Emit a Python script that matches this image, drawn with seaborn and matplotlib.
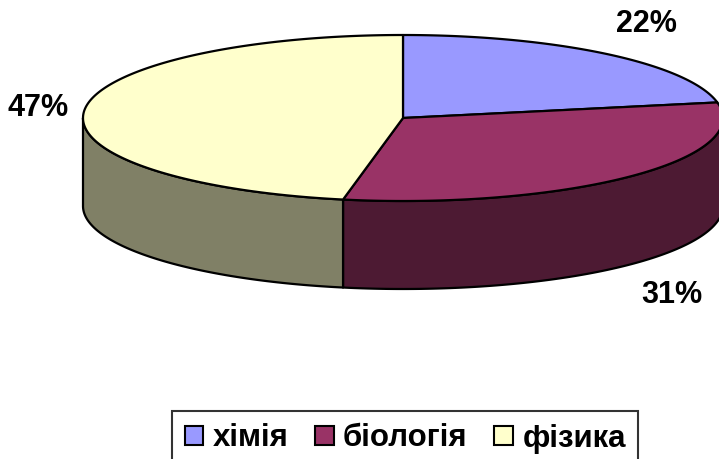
import numpy as np
import matplotlib.pyplot as plt
from matplotlib.patches import Polygon, Patch
import seaborn as sns

# data
subjects = ['хімія', 'біологія', 'фізика']
shares = [22, 31, 47]
top_colors = ['#9999FF', '#993366', '#FFFFCC']
side_colors = ['#4D4D80', '#4D1A33', '#808066']

sns.set_theme(style='white')
plt.rcParams['font.family'] = ['Liberation Sans', 'DejaVu Sans']
plt.rcParams['text.color'] = 'black'

# ellipse geometry in pixels
cx, cy, rx, ry, depth = 403, 118, 320, 83, 88
label_xy = [(646, 24), (672, 295), (38, 108)]


def pt(theta):
    return cx + rx * np.sin(theta), cy - ry * np.cos(theta)


fig = plt.figure(figsize=(7.19, 4.59), dpi=100)
ax = fig.add_axes([0, 0, 1, 1])
ax.set_xlim(0, 719)
ax.set_ylim(459, 0)
ax.axis('off')

bounds = np.cumsum([0] + shares) / sum(shares) * 2 * np.pi

# side walls (front half only)
for i in range(len(shares)):
    a = max(bounds[i], np.pi / 2)
    b = min(bounds[i + 1], 3 * np.pi / 2)
    if a < b:
        t = np.linspace(a, b, 200)
        x, y = pt(t)
        xs = np.concatenate([x, x[::-1]])
        ys = np.concatenate([y, (y + depth)[::-1]])
        ax.add_patch(Polygon(np.column_stack([xs, ys]), closed=True,
                             facecolor=side_colors[i], edgecolor='black',
                             lw=1.6, joinstyle='round'))

# top faces
for i in range(len(shares)):
    t = np.linspace(bounds[i], bounds[i + 1], 200)
    x, y = pt(t)
    xs = np.concatenate([[cx], x])
    ys = np.concatenate([[cy], y])
    ax.add_patch(Polygon(np.column_stack([xs, ys]), closed=True,
                         facecolor=top_colors[i], edgecolor='black',
                         lw=1.6, joinstyle='round'))

for (lx, ly), s in zip(label_xy, shares):
    ax.text(lx, ly, f'{s}%', ha='center', va='center', fontsize=22,
            fontweight='bold', color='black')

handles = [Patch(facecolor=c, edgecolor='black', lw=1.5) for c in top_colors]
leg = fig.legend(handles, subjects, loc='upper left',
                 bbox_to_anchor=(172 / 719, 1 - 411 / 459), ncol=3,
                 frameon=True, fancybox=False, edgecolor='black',
                 prop={'size': 22.5, 'weight': 'bold'}, labelcolor='black',
                 handlelength=0.6, handleheight=0.6, handletextpad=0.3,
                 columnspacing=0.85, borderpad=0.4, borderaxespad=0)
leg.get_frame().set_linewidth(1.5)

fig.savefig('out.png', dpi=100)
